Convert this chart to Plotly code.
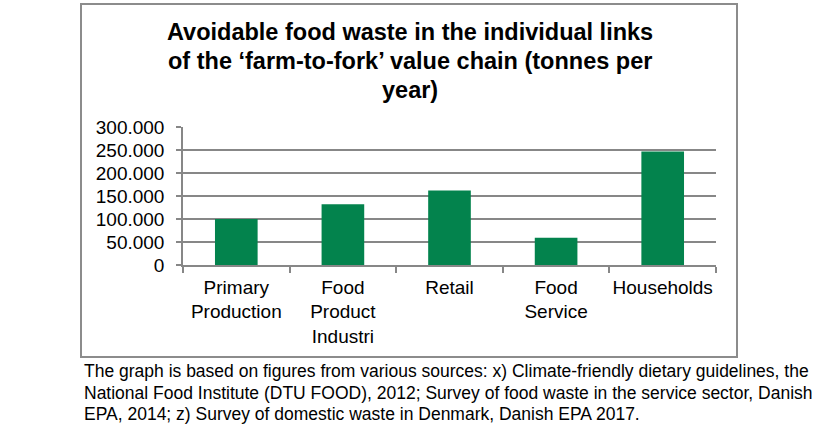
import plotly.graph_objects as go

categories = ["Primary<br>Production", "Food<br>Product<br>Industri", "Retail", "Food<br>Service", "Households"]
values = [100000, 132000, 162000, 59000, 247000]
ytick_vals = [0, 50000, 100000, 150000, 200000, 250000, 300000]

title_lines = [
    "Avoidable food waste in the individual links",
    "of the \u2018farm-to-fork\u2019 value chain (tonnes per",
    "year)",
]
caption_lines = [
    "The graph is based on figures from various sources: x) Climate-friendly dietary guidelines, the",
    "National Food Institute (DTU FOOD), 2012; Survey of food waste in the service sector, Danish",
    "EPA, 2014; z) Survey of domestic waste in Denmark, Danish EPA 2017.",
]

W, H = 834, 425
L, R, T, B = 183, 716, 127, 265

def px(x):
    return (x - L) / (R - L)

def py(y):
    return (B - y) / (B - T)

FONT = "Liberation Sans, Arial, sans-serif"

fig = go.Figure(go.Bar(x=categories, y=values, marker=dict(color="#03834D", line=dict(width=0)),
                       width=0.4))

fig.update_layout(
    width=W, height=H,
    margin=dict(l=L, r=W - R, t=T, b=H - B, pad=0),
    paper_bgcolor="white", plot_bgcolor="white",
    separators=",.",
    showlegend=False,
    font=dict(family=FONT, color="#000000"),
    xaxis=dict(showline=True, linecolor="#878787", linewidth=1.5, ticks="outside", ticklen=6,
               tickcolor="#878787", tickwidth=1.5, tickson="boundaries", showgrid=False,
               tickangle=0, ticklabelstandoff=4,
               tickfont=dict(size=19, family=FONT, color="#000"), fixedrange=True),
    yaxis=dict(range=[0, 300000], tickvals=ytick_vals, tickformat=",d", showline=True,
               linecolor="#878787", linewidth=1.5, ticks="outside", ticklen=5, tickcolor="#878787",
               tickwidth=1.5, showgrid=True, gridcolor="#878787", gridwidth=1.5, zeroline=False,
               tickfont=dict(size=19, family=FONT, color="#000"), ticklabelstandoff=8,
               fixedrange=True),
)

# chart frame
fig.add_shape(type="rect", xref="paper", yref="paper",
              x0=px(81), x1=px(737), y0=py(357), y1=py(4),
              line=dict(color="#8c8c8c", width=2), fillcolor="rgba(0,0,0,0)", layer="below")

for i, line in enumerate(title_lines):
    fig.add_annotation(text="<b>" + line + "</b>", xref="paper", yref="paper", x=px(410),
                       y=py(32 + 29 * i), xanchor="center", yanchor="middle", showarrow=False,
                       font=dict(size=23.5, family=FONT, color="#000"))

for i, line in enumerate(caption_lines):
    fig.add_annotation(text=line, xref="paper", yref="paper", x=px(82), y=py(371 + 21.5 * i),
                       xanchor="left", yanchor="middle", showarrow=False, align="left",
                       font=dict(size=17.5, family=FONT, color="#000"))

fig.write_html("out.html")
